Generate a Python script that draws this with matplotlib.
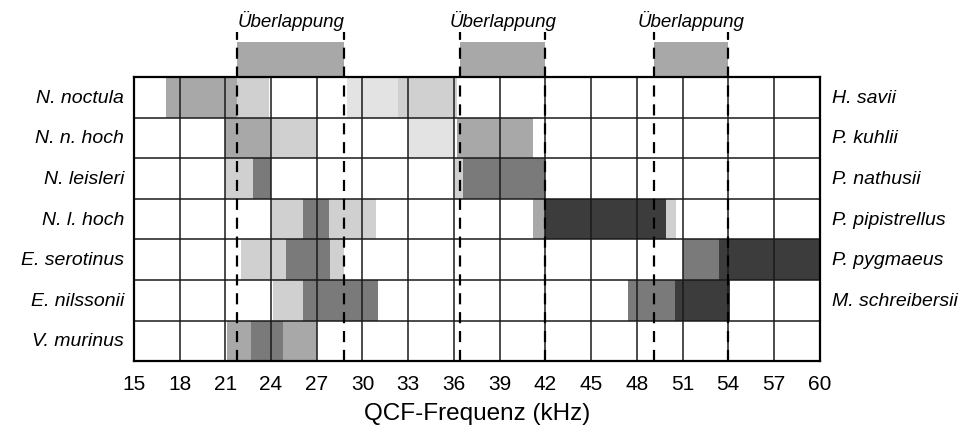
import matplotlib.pyplot as plt

# Species per row (left and right labels)
left_species = ["N. noctula", "N. n. hoch", "N. leisleri", "N. l. hoch",
                "E. serotinus", "E. nilssonii", "V. murinus"]
right_species = ["H. savii", "P. kuhlii", "P. nathusii", "P. pipistrellus",
                 "P. pygmaeus", "M. schreibersii", ""]

xticks = list(range(15, 61, 3))

# Frequency ranges per row (kHz) and their shading level (1 light .. 5 dark)
seg_row = [0, 0, 0, 0,
           1, 1, 1, 1,
           2, 2, 2, 2,
           3, 3, 3, 3, 3, 3,
           4, 4, 4, 4, 4,
           5, 5, 5, 5,
           6, 6, 6]
seg_start = [17.1, 21.8, 29.0, 32.3,
             21.0, 24.0, 33.0, 36.2,
             21.0, 22.8, 36.1, 36.6,
             24.0, 26.1, 27.8, 41.2, 42.0, 49.9,
             22.0, 25.0, 27.9, 51.0, 53.4,
             24.1, 26.1, 47.4, 50.5,
             21.1, 22.7, 24.8]
seg_end = [21.8, 23.9, 32.3, 36.2,
           24.0, 27.0, 36.0, 41.2,
           22.8, 24.0, 36.6, 42.0,
           26.1, 27.8, 30.9, 42.0, 49.9, 50.6,
           25.0, 27.9, 28.8, 53.4, 60.0,
           26.1, 31.0, 50.5, 54.1,
           22.7, 24.8, 27.0]
seg_level = [3, 2, 1, 2,
             3, 2, 1, 3,
             2, 4, 2, 4,
             2, 4, 2, 3, 5, 2,
             2, 4, 2, 4, 5,
             2, 4, 4, 5,
             3, 4, 3]

# Overlap zones (kHz)
overlap_start = [21.8, 36.4, 49.1]
overlap_end = [28.8, 42.0, 54.0]

shades = {1: "#e3e3e3", 2: "#d0d0d0", 3: "#a8a8a8", 4: "#7a7a7a", 5: "#3c3c3c"}

plt.rcParams['font.family'] = ['Liberation Sans', 'DejaVu Sans']

fig = plt.figure(figsize=(9.77, 4.27), dpi=100)
ax = fig.add_axes([0.137, 0.152, 0.702, 0.665])

# Bars
for r, s, e, lv in zip(seg_row, seg_start, seg_end, seg_level):
    ax.barh(r + 0.5, e - s, left=s, height=1.0, color=shades[lv],
            linewidth=0, zorder=1)

ax.set_xlim(15, 60)
ax.set_ylim(7, 0)

# Grid drawn on top of the bars
for x in xticks[1:-1]:
    ax.axvline(x, color="#1a1a1a", lw=1.1, zorder=3)
for y in range(1, 7):
    ax.axhline(y, color="#1a1a1a", lw=1.1, zorder=3)
for sp in ax.spines.values():
    sp.set_linewidth(1.6)
    sp.set_zorder(4)

# Overlap boxes above the plot
for s, e in zip(overlap_start, overlap_end):
    ax.add_patch(plt.Rectangle((s, -0.86), e - s, 0.86, facecolor="#a8a8a8",
                               edgecolor="none", clip_on=False, zorder=1))
    ax.text((s + e) / 2, -1.4, "Überlappung", ha="center", va="center",
            style="italic", fontsize=13.5, clip_on=False)
    for x in (s, e):
        ax.plot([x, x], [7, -1.12], color="black", lw=1.6,
                linestyle=(0, (5, 3.5)), clip_on=False, zorder=5)

# Labels
ax.set_xticks(xticks)
ax.set_xticklabels([str(t) for t in xticks], fontsize=15)
ax.tick_params(axis="x", length=0, pad=9)
ax.set_yticks([])
ax.set_xlabel("QCF-Frequenz (kHz)", fontsize=17.5, labelpad=7)

for i, name in enumerate(left_species):
    ax.text(-0.014, 1 - (i + 0.5) / 7, name, transform=ax.transAxes,
            ha="right", va="center", style="italic", fontsize=14)
for i, name in enumerate(right_species):
    ax.text(1.018, 1 - (i + 0.5) / 7, name, transform=ax.transAxes,
            ha="left", va="center", style="italic", fontsize=14)

fig.savefig("out.png", dpi=100)
